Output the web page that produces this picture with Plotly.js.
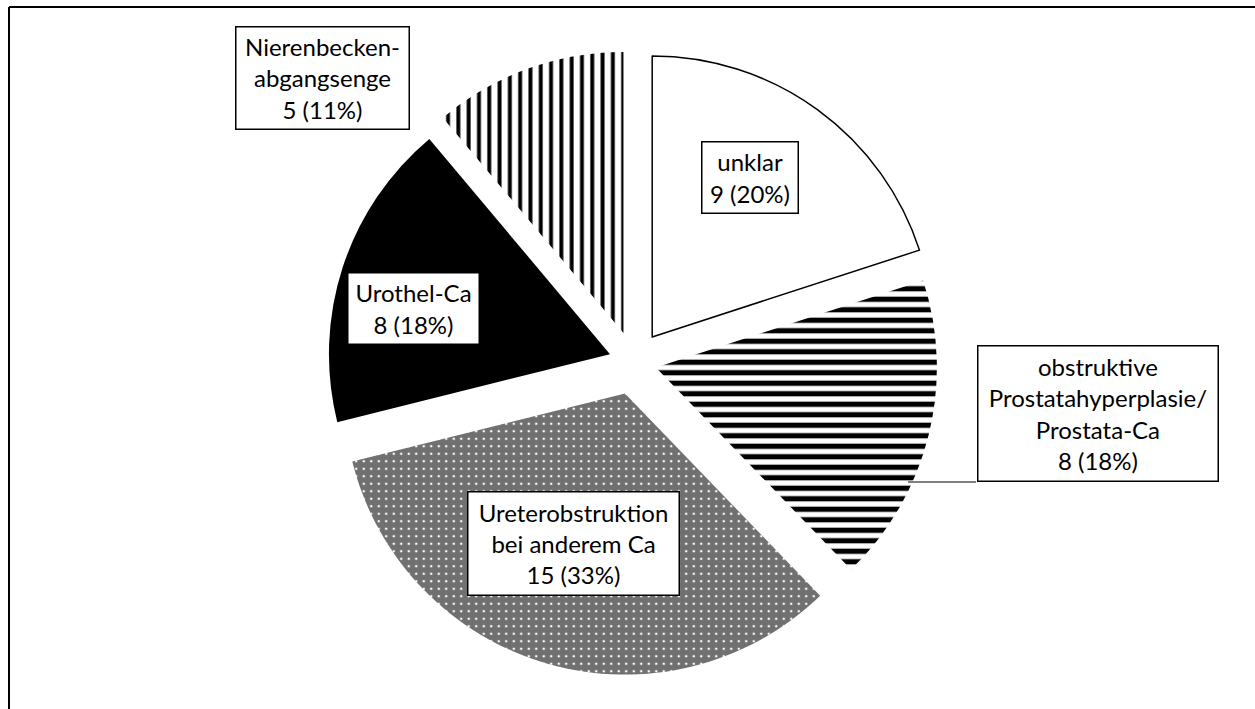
<!DOCTYPE html>
<html>
<head>
<meta charset="utf-8">
<script src="https://cdn.plot.ly/plotly-3.0.1.min.js"></script>
<style>
  html, body { margin: 0; padding: 0; background: #fff; }
  #chart { width: 1255px; height: 709px; }
</style>
</head>
<body>
<div id="chart"></div>
<script>
// ---- data ----
const categories = ["unklar", "obstruktive Prostatahyperplasie/Prostata-Ca", "Ureterobstruktion bei anderem Ca", "Urothel-Ca", "Nierenbeckenabgangsenge"];
const labelLines = ["unklar", "obstruktive<br>Prostatahyperplasie/<br>Prostata-Ca", "Ureterobstruktion<br>bei anderem Ca", "Urothel-Ca", "Nierenbecken-<br>abgangsenge"];
const counts = [9, 8, 15, 8, 5];

// ---- style ----
const fillColors = ["#ffffff", "#ffffff", "#707070", "#000000", "#ffffff"];
const patternShapes = ["", "-", ".", "", "|"];
const patternFg = ["#000000", "#000000", "#ffffff", "#000000", "#000000"];
const patternBg = ["#ffffff", "#ffffff", "#707070", "#000000", "#ffffff"];
const patternSize = [10, 10.5, 7.5, 10, 10.3];
const patternSolidity = [0.3, 0.5, 0.09, 0.3, 0.38];
const pulls = [0.11, 0.08, 0.117, 0.09, 0.11];
const lineWidths = [1.5, 0, 0, 0, 0];

// label box layout (pixel centres and sizes)
const W = 1255, H = 709;
const boxCx = [749.5, 1097.5, 573, 413, 322];
const boxCy = [177, 413, 543, 308, 78.5];
const boxW = [99, 243, 214, 134, 176];
const boxH = [74, 138, 106, 74, 105];

const total = counts.reduce((a, b) => a + b, 0);

const trace = {
  type: "pie",
  labels: categories,
  values: counts,
  sort: false,
  direction: "clockwise",
  rotation: 0,
  pull: pulls,
  textinfo: "none",
  hoverinfo: "label+value+percent",
  showlegend: false,
  domain: { x: [0.2, 0.8104], y: [0.0467, 0.9322] },
  marker: {
    colors: fillColors,
    line: { color: "#000000", width: lineWidths },
    pattern: {
      shape: patternShapes,
      fgcolor: patternFg,
      bgcolor: patternBg,
      size: patternSize,
      solidity: patternSolidity,
      fillmode: "replace"
    }
  }
};

const annotations = labelLines.map((txt, i) => ({
  xref: "paper", yref: "paper",
  x: boxCx[i] / W, y: 1 - boxCy[i] / H,
  xanchor: "center", yanchor: "middle",
  text: txt + "<br>" + counts[i] + " (" + Math.round(counts[i] / total * 100) + "%)",
  showarrow: false,
  align: "center",
  valign: "middle",
  width: boxW[i] - 4, height: boxH[i] - 4,
  bgcolor: "#ffffff",
  bordercolor: "#000000",
  borderwidth: 1.5,
  borderpad: 0,
  font: { family: "Lato, 'Open Sans', sans-serif", size: 24, color: "#000000" }
}));

const shapes = [
  // chart frame (top and left edges visible)
  { type: "line", xref: "paper", yref: "paper", x0: 9 / W, x1: 1, y0: 1 - 7 / H, y1: 1 - 7 / H, line: { color: "#000", width: 2 } },
  { type: "line", xref: "paper", yref: "paper", x0: 9 / W, x1: 9 / W, y0: 1 - 7 / H, y1: 0, line: { color: "#000", width: 2 } },
  // leader line for the obstruktive label
  { type: "line", xref: "paper", yref: "paper", x0: 908 / W, x1: 976 / W, y0: 1 - 482 / H, y1: 1 - 482 / H, line: { color: "#000", width: 1.2 } }
];

const layout = {
  width: W, height: H,
  margin: { l: 0, r: 0, t: 0, b: 0 },
  paper_bgcolor: "#ffffff",
  plot_bgcolor: "#ffffff",
  showlegend: false,
  annotations: annotations,
  shapes: shapes
};

Plotly.newPlot("chart", [trace], layout, { displayModeBar: false, staticPlot: true });
</script>
</body>
</html>
